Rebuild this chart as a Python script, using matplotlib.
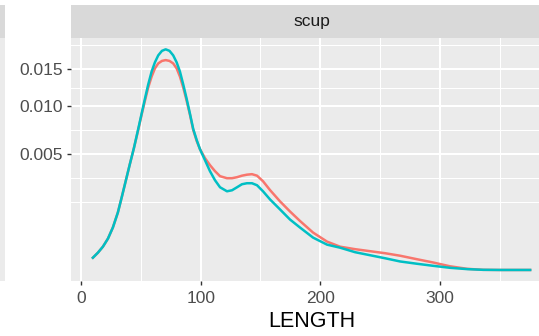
import numpy as np
import matplotlib
matplotlib.use("Agg")
import matplotlib.pyplot as plt

plt.rcParams["font.family"] = ["Liberation Sans", "DejaVu Sans"]

# Density of LENGTH for the "scup" facet, two groups
length = [10.0, 14.2, 18.4, 22.6, 26.7, 30.9, 34.3, 37.6, 40.9, 44.3, 47.9,
          50.7, 53.5, 56.2, 59.1, 61.8, 64.6, 67.7, 70.8, 74.0, 77.1, 80.0,
          82.7, 85.5, 88.3, 91.1, 93.8, 96.7, 99.4, 103.6, 107.8, 112.0,
          116.2, 122.0, 126.2, 130.4, 134.5, 138.7, 142.9, 147.1, 152.1,
          157.9, 166.3, 174.6, 183.0, 193.9, 205.6, 216.4, 229.0, 241.5,
          254.0, 266.6, 280.8, 294.1, 308.3, 322.6, 335.9, 350.1, 375.2]
density_a = [5.61e-5, 1.115e-4, 2.028e-4, 3.668e-4, 6.711e-4, 0.0012330,
             0.0020192, 0.0029984, 0.0041705, 0.0055357, 0.0073019,
             0.0089604, 0.0106612, 0.0123730, 0.0139209, 0.0151039,
             0.0158677, 0.0162567, 0.0163822, 0.0162567, 0.0158677,
             0.0151039, 0.0139209, 0.0123730, 0.0106612, 0.0089604,
             0.0073019, 0.0061935, 0.0054447, 0.0046598, 0.0040917,
             0.0036339, 0.0032733, 0.0031343, 0.0031343, 0.0032035,
             0.0033085, 0.0033796, 0.0034153, 0.0033085, 0.0029316,
             0.0023817, 0.0017528, 0.0012765, 0.0008938, 0.0005215,
             0.0002997, 0.0002028, 0.0001615, 0.0001318, 0.0001051,
             7.60e-5, 4.31e-5, 2.12e-5, 5.16e-6, 5.4e-7, 1.5e-8, 1e-9, 1e-9]
density_b = [5.61e-5, 1.115e-4, 2.028e-4, 3.668e-4, 6.711e-4, 0.0012330,
             0.0020192, 0.0029984, 0.0041705, 0.0055357, 0.0074072,
             0.0090770, 0.0109163, 0.0127862, 0.0146546, 0.0160227,
             0.0171291, 0.0178597, 0.0181067, 0.0178597, 0.0171291,
             0.0160227, 0.0146546, 0.0127862, 0.0109163, 0.0090770,
             0.0074072, 0.0062904, 0.0054447, 0.0044937, 0.0036339,
             0.0029984, 0.0025462, 0.0023045, 0.0023638, 0.0025462,
             0.0027355, 0.0028001, 0.0028001, 0.0026717, 0.0023045,
             0.0018571, 0.0013657, 0.0009497, 0.0006711, 0.0003907,
             0.0002393, 0.0001857, 0.0001181, 8.14e-5, 5.16e-5, 2.72e-5,
             1.45e-5, 6.65e-6, 1.82e-6, 3.05e-7, 1.5e-8, 1e-9, 1e-9]

facet_label = "scup"
x_title = "LENGTH"
x_breaks = [0, 100, 200, 300]
y_breaks = [0.005, 0.010, 0.015]
y_labels = ["0.005", "0.010", "0.015"]

col_a = "#F8766D"
col_b = "#00BFC4"
panel_bg = "#EBEBEB"
strip_bg = "#D9D9D9"

W, H = 539, 336
fig = plt.figure(figsize=(W / 100, H / 100), dpi=100)


def fwd(v):
    v = np.asarray(v, dtype=float)
    return np.sign(v) * np.sqrt(np.abs(v))


def inv(s):
    s = np.asarray(s, dtype=float)
    return np.sign(s) * s ** 2


def px_rect(x0, y0, x1, y1):
    return [x0 / W, 1 - y1 / H, (x1 - x0) / W, (y1 - y0) / H]


def blank(a):
    a.set_xticks([])
    a.set_yticks([])
    for sp in a.spines.values():
        sp.set_visible(False)


# panel limits, 5% expansion (y expanded in sqrt space)
xmin, xmax = min(length), max(length)
xpad = 0.05 * (xmax - xmin)
xlim = (xmin - xpad, xmax + xpad)
s_all = fwd(np.concatenate([density_a, density_b]))
spad = 0.05 * (s_all.max() - s_all.min())
ylim = (float(inv(s_all.min() - spad)), float(inv(s_all.max() + spad)))

# minor breaks: midpoints between majors in sqrt space, extended by one step
sb = list(fwd(y_breaks))
bd = sb[1] - sb[0]
sb = [sb[0] - bd] + sb + [sb[-1] + bd]
s_minor = [sb[0]] + [(a + b) / 2 for a, b in zip(sb[:-1], sb[1:])]
y_minor = [float(inv(s)) for s in s_minor]
x_minor = [50, 150, 250, 350]

panel_top, panel_bot = 38.3, 281
ax = fig.add_axes(px_rect(71, panel_top, 552, panel_bot))
ax.set_facecolor(panel_bg)
ax.set_yscale("function", functions=(fwd, inv))
ax.set_xlim(*xlim)
ax.set_ylim(*ylim)
ax.set_xticks(x_breaks)
ax.set_xticklabels([str(b) for b in x_breaks])
ax.set_yticks(y_breaks)
ax.set_yticklabels(y_labels)
ax.set_xticks(x_minor, minor=True)
ax.set_yticks([v for v in y_minor if ylim[0] < v < ylim[1]], minor=True)
ax.grid(which="major", color="white", linewidth=1.5)
ax.grid(which="minor", color="white", linewidth=0.75)
ax.set_axisbelow(True)
for sp in ax.spines.values():
    sp.set_visible(False)
ax.tick_params(which="major", length=3, width=1.0, color="#333333",
               labelsize=12.5, labelcolor="#4D4D4D")
ax.tick_params(axis="x", pad=4)
ax.tick_params(axis="y", pad=3)
ax.tick_params(which="minor", length=0)

ax.plot(length, density_a, color=col_a, linewidth=1.8,
        solid_joinstyle="round")
ax.plot(length, density_b, color=col_b, linewidth=1.8,
        solid_joinstyle="round")

ax.set_xlabel(x_title, fontsize=15.5, color="black", labelpad=4)

# facet strip
sax = fig.add_axes(px_rect(71, 5, 552, panel_top))
sax.set_facecolor(strip_bg)
blank(sax)
sax.text(0.5, 0.5, facet_label, ha="center", va="center", fontsize=12.5,
         color="#1A1A1A", transform=sax.transAxes)

# neighbouring facet (edge only)
lax = fig.add_axes(px_rect(-100, panel_top, 4.5, panel_bot))
lax.set_facecolor(panel_bg)
blank(lax)
lstrip = fig.add_axes(px_rect(-100, 5, 4.5, panel_top))
lstrip.set_facecolor(strip_bg)
blank(lstrip)

fig.savefig("out.png", dpi=100)
